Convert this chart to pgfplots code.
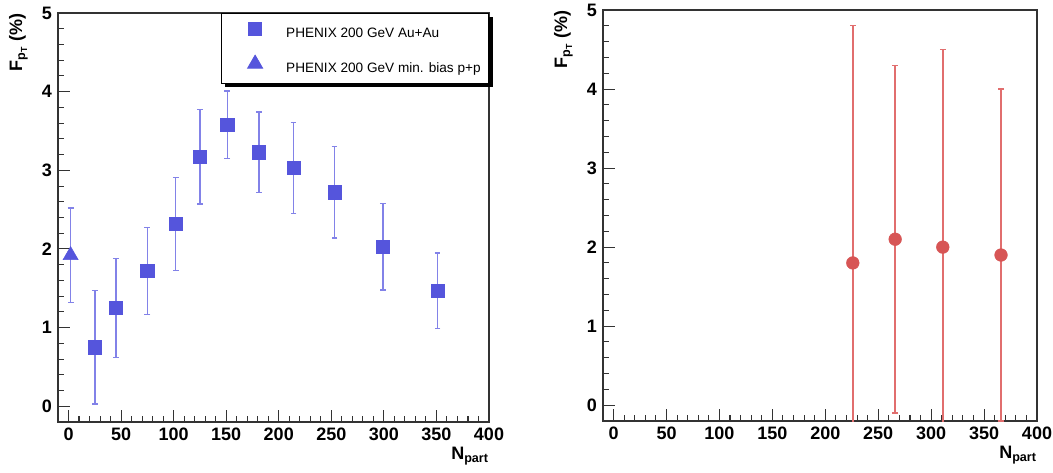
\documentclass[border=0pt]{standalone}
\usepackage{fontspec}
\setmainfont{Liberation Sans}
\usepackage{pgfplots}
\pgfplotsset{compat=1.18}
\usetikzlibrary{shadows}

\definecolor{auau}{RGB}{85,85,220}
\definecolor{auauerr}{RGB}{130,130,232}
\definecolor{model}{RGB}{215,85,85}
\definecolor{modelerr}{RGB}{225,110,110}

% x  y  err
\pgfplotstableread{
x y ey
25 0.75 0.72
45 1.25 0.63
75 1.72 0.55
102 2.32 0.59
125 3.17 0.60
151 3.58 0.43
181 3.23 0.51
214 3.03 0.58
253 2.72 0.58
299 2.03 0.55
351 1.47 0.48
}\auau
\pgfplotstableread{
x y ey
2 1.92 0.60
}\pp
\pgfplotstableread{
x y ey
226 1.80 3.0
266 2.10 2.2
311 2.00 2.5
366 1.90 2.1
}\right

\pgfplotsset{
  fpt/.style={
    scale only axis,
    xmin=-10, xmax=400, ymin=-0.2, ymax=5,
    xtick={0,50,...,400}, ytick={0,1,...,5},
    minor x tick num=4, minor y tick num=4,
    tick pos=left, tick align=inside,
    major tick length=9pt, minor tick length=4.5pt,
    axis line style={line width=0.8pt, black!80},
    every tick/.style={black!80, line width=0.8pt},
    tick label style={font=\fontsize{13.5}{14}\selectfont\bfseries},
    /pgf/number format/assume math mode=true,
    xticklabel style={yshift=-1pt},
    yticklabel style={xshift=-1pt},
  },
  ebars/.style={error bars/.cd, y dir=both, y explicit, error mark=-,
    error bar style={#1, line width=1.1pt},
    error mark options={#1, rotate=90, mark size=2.2pt, line width=1pt}},
}

\begin{document}
\begin{tikzpicture}[x=1pt,y=1pt]
\path[use as bounding box] (0,0) rectangle (789.75,354);

\begin{axis}[fpt, name=left, at={(43.5pt,37.5pt)}, anchor=south west,
  width=323.25pt, height=306.75pt,
  legend style={at={(rel axis cs:1,1)}, anchor=north east, draw=black, line width=0.6pt,
    fill=white, font=\fontsize{10.2}{12}\selectfont,
    inner xsep=6pt, inner ysep=6.8pt, row sep=11.6pt,
    nodes={inner sep=0pt},
    drop shadow={shadow xshift=3pt, shadow yshift=-2.5pt, fill=black, opacity=1},
    /tikz/every odd column/.append style={column sep=16pt}},
  legend cell align=left,
  legend image code/.code={\path (0pt,0pt) (26pt,0pt);
    \draw[#1] plot[only marks] coordinates {(19pt,3.6pt)};},
]
\addlegendimage{only marks, mark=square*, mark size=5pt, color=auau}
\addlegendentry{PHENIX 200 GeV Au+Au}
\addlegendimage{only marks, mark=triangle*, mark size=6.5pt, color=auau}
\addlegendentry{PHENIX 200 GeV min. bias p+p}
\addplot[forget plot, only marks, mark=square*, mark size=5pt, color=auau, ebars=auauerr]
  table[x=x, y=y, y error=ey] {\auau};
\addplot[forget plot, only marks, mark=triangle*, mark size=6.5pt, color=auau, ebars=auauerr]
  table[x=x, y=y, y error=ey] {\pp};
\end{axis}

\begin{axis}[fpt, name=rightax, at={(452.25pt,38.25pt)}, anchor=south west,
  width=325.5pt, height=308.25pt]
\addplot[only marks, mark=*, mark size=4.75pt, color=model, ebars=modelerr]
  table[x=x, y=y, y error=ey] {\right};
\end{axis}

% axis titles, ROOT style
\foreach \ax in {left, rightax} {
  \node[rotate=90, anchor=south east, inner sep=0pt,
    font=\fontsize{13.5}{14}\selectfont\bfseries]
    at ([xshift=-22.5pt]\ax.north west) {F\textsubscript{p\textsubscript{T}} (\%)};
  \node[anchor=north east, inner sep=0pt,
    font=\fontsize{13.5}{14}\selectfont\bfseries]
    at ([yshift=-18.5pt]\ax.south east) {N\textsubscript{part}};
}
\end{tikzpicture}
\end{document}
